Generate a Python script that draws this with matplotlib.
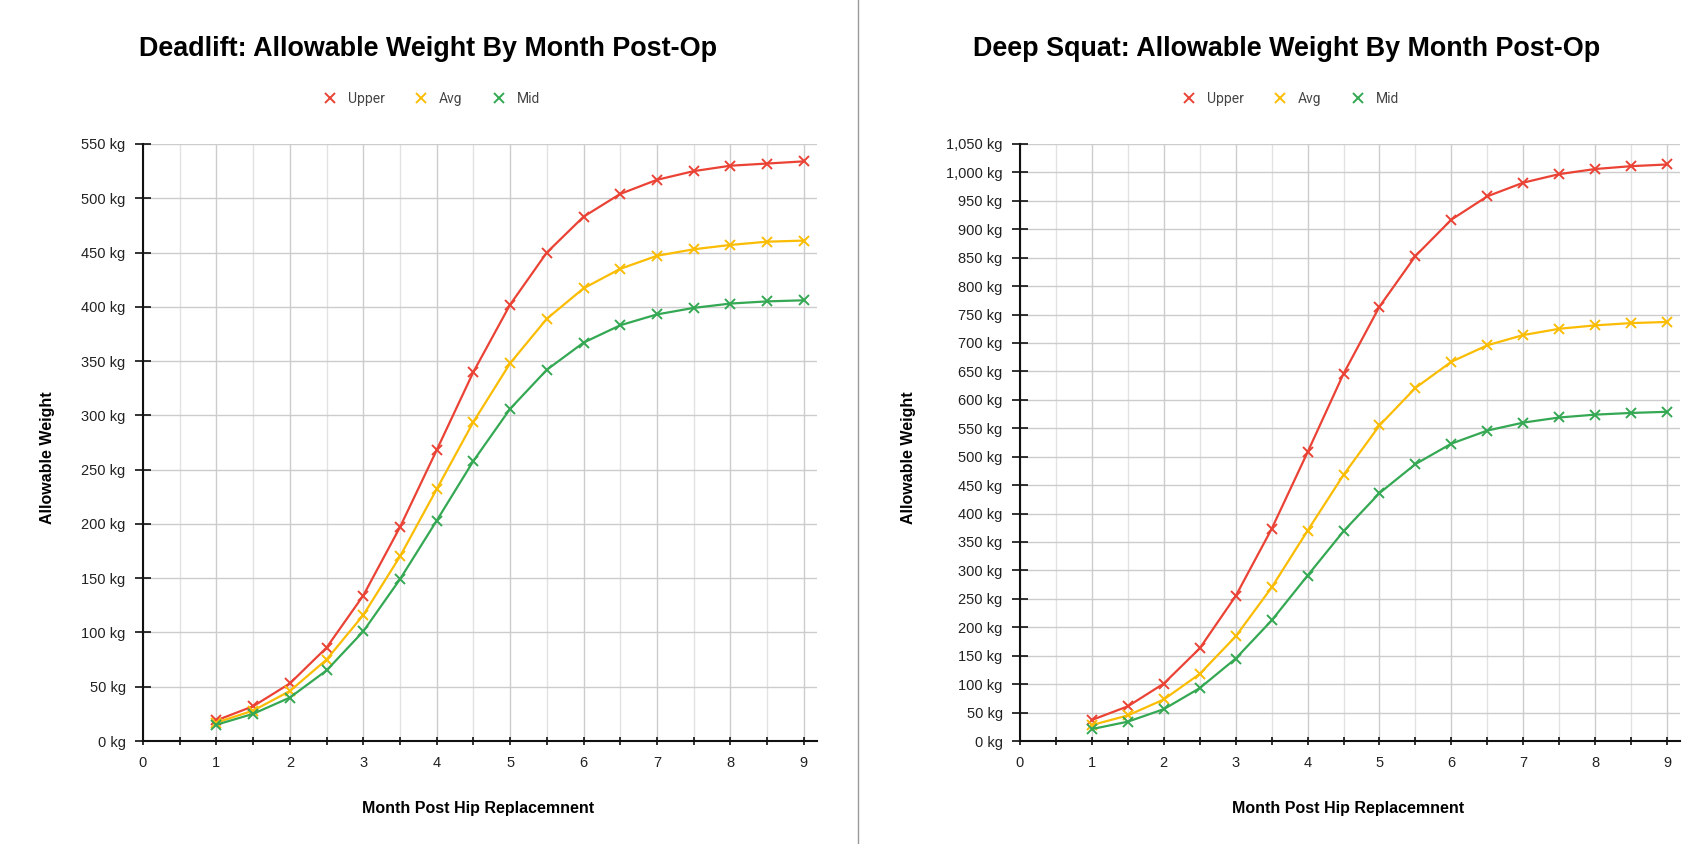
import matplotlib
matplotlib.use('Agg')
import matplotlib.pyplot as plt
from matplotlib.lines import Line2D
from matplotlib.ticker import FuncFormatter, MultipleLocator

plt.rcParams.update({'font.family': ['Liberation Sans', 'DejaVu Sans'], 'font.size': 10})

C_UP = '#ea4335'
C_AVG = '#fbbc04'
C_MID = '#34a853'

months = [1, 1.5, 2, 2.5, 3, 3.5, 4, 4.5, 5, 5.5, 6, 6.5, 7, 7.5, 8, 8.5, 9]

dl_upper = [19, 32, 53, 86, 134, 197, 268, 340, 402, 450, 483, 504, 517, 525, 530, 532, 534]
dl_avg = [17, 28, 46, 75, 116, 170, 232, 294, 348, 389, 417, 435, 447, 453, 457, 460, 461]
dl_mid = [15, 25, 40, 65, 101, 149, 203, 258, 306, 342, 367, 383, 393, 399, 403, 405, 406]

sq_upper = [37, 61, 101, 163, 255, 373, 508, 646, 764, 853, 917, 958, 982, 997, 1006, 1011, 1014]
sq_avg = [28, 45, 73, 118, 184, 270, 370, 468, 555, 621, 667, 696, 714, 725, 731, 735, 737]
sq_mid = [21, 34, 56, 93, 145, 212, 291, 369, 436, 487, 523, 546, 560, 569, 574, 577, 579]

series_names = ['Upper', 'Avg', 'Mid']
colours = [C_UP, C_AVG, C_MID]

W, H = 1708, 844
fig = plt.figure(figsize=(W / 100, H / 100), dpi=100)

panels = [
    # title, data, ymax, axes px (left, right), centre of half, ylabel x
    ('Deadlift: Allowable Weight By Month Post-Op', [dl_upper, dl_avg, dl_mid], 550, (143, 817), 428, -0.131),
    ('Deep Squat: Allowable Weight By Month Post-Op', [sq_upper, sq_avg, sq_mid], 1050, (1020, 1680), 1287, -0.158),
]

top_px, bot_px = 144, 741
for title, data, ymax, (xl, xr), cx, ylab_x in panels:
    ax = fig.add_axes([xl / W, 1 - bot_px / H, (xr - xl) / W, (bot_px - top_px) / H])
    for vals, col, name in zip(data, colours, series_names):
        ax.plot(months, vals, color=col, lw=1.6, marker='x', ms=7, mew=1.4,
                label=name, zorder=3)
    ax.set_xlim(0, 9.18)
    ax.set_ylim(0, ymax)
    ax.xaxis.set_major_locator(MultipleLocator(1))
    ax.xaxis.set_minor_locator(MultipleLocator(0.5))
    ax.yaxis.set_major_locator(MultipleLocator(50))
    ax.yaxis.set_major_formatter(FuncFormatter(lambda v, p: f"{v:,.0f} kg"))
    ax.grid(which='major', color='#cccccc', lw=1.0)
    ax.grid(which='minor', axis='x', color='#e2e2e2', lw=1.0)
    ax.set_axisbelow(True)
    for s in ('top', 'right'):
        ax.spines[s].set_visible(False)
    for s in ('left', 'bottom'):
        ax.spines[s].set_linewidth(1.5)
        ax.spines[s].set_color('#111111')
    ax.tick_params(axis='y', which='major', direction='inout', length=12, width=1.2,
                   labelsize=10.5, colors='#111111', labelcolor='#222222', pad=6.5)
    ax.tick_params(axis='x', which='both', direction='inout', length=6, width=1.2,
                   labelsize=10.5, colors='#111111', labelcolor='#222222', pad=8)
    ax.set_xlabel('Month Post Hip Replacemnent', fontsize=11.5, fontweight='bold')
    ax.xaxis.set_label_coords(0.497, -0.10)
    ax.set_ylabel('Allowable Weight', fontsize=11.5, fontweight='bold')
    ax.yaxis.set_label_coords(ylab_x, 0.475)

    fig.text(cx / W, 1 - 49 / H, title, ha='center', va='center', fontsize=19.4,
             fontweight='bold', color='#000000')
    handles = [Line2D([], [], color=c, marker='x', ls='none', ms=7, mew=1.4, label=n)
               for c, n in zip(colours, series_names)]
    fig.legend(handles=handles, loc='center', bbox_to_anchor=(cx / W, 1 - 99 / H),
               ncol=3, frameon=False, handletextpad=0.3, columnspacing=1.6,
               labelcolor='#444444', prop={'family': 'Roboto', 'size': 10})

# divider between the two charts
fig.add_artist(Line2D([858 / W, 858 / W], [0, 1], color='#999999', lw=1.0,
                      transform=fig.transFigure))

fig.savefig('out.png', dpi=100, facecolor='white')
